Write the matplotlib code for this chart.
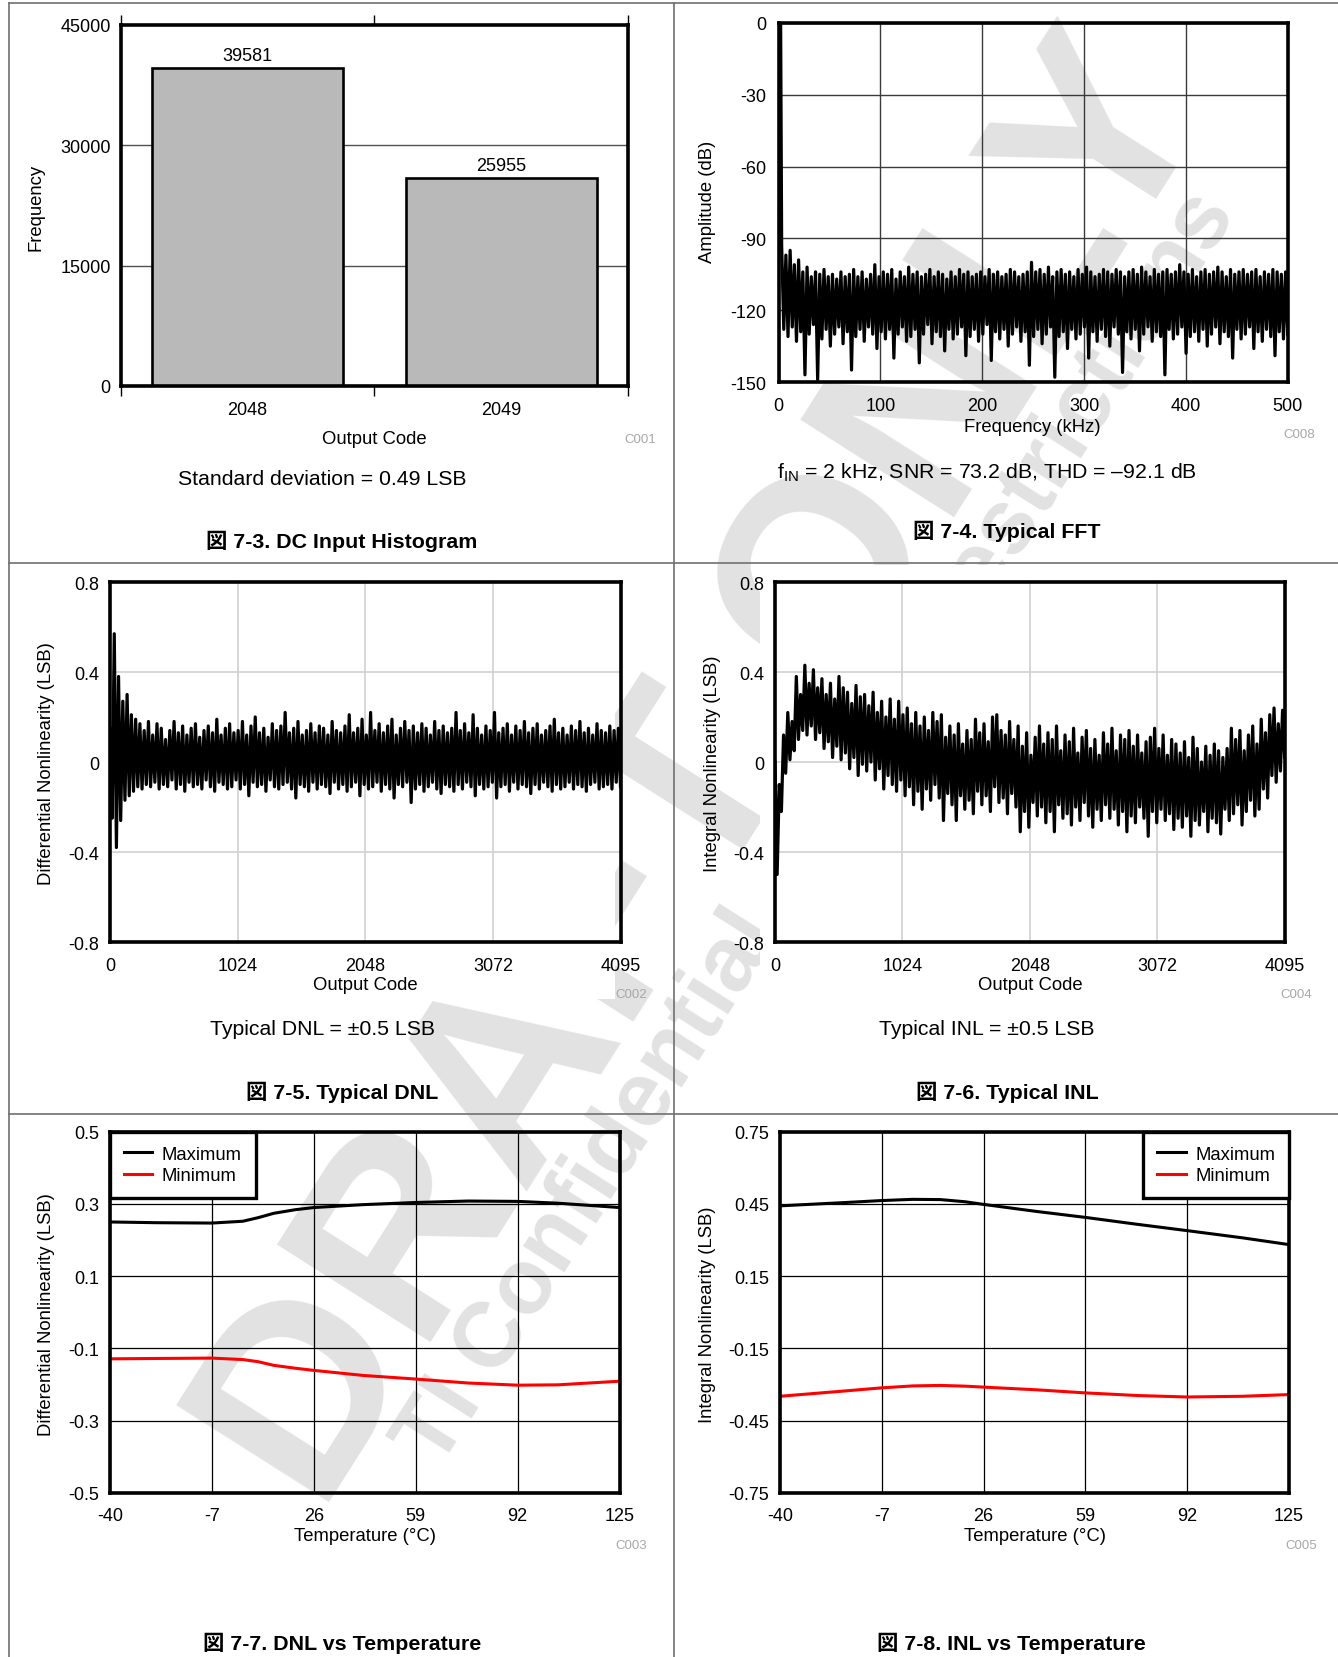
import numpy as np
import matplotlib
matplotlib.use('Agg')
import matplotlib.pyplot as plt
from matplotlib.lines import Line2D
from matplotlib.patches import Rectangle

plt.rcParams['font.family'] = ['Liberation Sans', 'Noto Sans CJK JP', 'DejaVu Sans']
plt.rcParams['axes.unicode_minus'] = False
plt.rcParams['mathtext.fontset'] = 'custom'
plt.rcParams['mathtext.rm'] = 'Liberation Sans'

# ---------------------------------------------------------------- data
hist_codes = ['2048', '2049']
hist_counts = [39581, 25955]

# FFT: fundamental at 2 kHz, then noise floor peaks / troughs (dB)
fft_fund_khz = 2
fft_fund_db = 0
fft_hi = [-93, -97, -95, -101, -99, -104, -102, -106, -104, -105, -103, -106, -105, -107, -104,
          -106, -105, -103, -106, -104, -107, -105, -101, -106, -104, -105, -103, -107, -104, -106,
          -102, -105, -104, -106, -105, -103, -106, -104, -105, -107, -104, -106, -103, -105, -104,
          -106, -105, -104, -106, -103, -105, -104, -106, -105, -103, -104, -106, -105, -104, -100,
          -104, -103, -105, -102, -106, -104, -103, -105, -104, -106, -103, -105, -102, -104, -106,
          -105, -103, -104, -105, -103, -104, -106, -104, -103, -105, -102, -104, -106, -103, -105,
          -104, -103, -105, -104, -101, -104, -105, -103, -106, -104, -103, -105, -104, -102, -104,
          -106, -103, -105, -104, -103, -105, -104, -103, -106, -104, -105, -103, -104, -105, -104]
fft_lo = [-128, -131, -127, -133, -129, -147, -130, -126, -149, -132, -128, -135, -130, -127, -134,
          -129, -145, -131, -128, -133, -127, -130, -136, -129, -132, -128, -140, -130, -127, -133,
          -131, -128, -142, -130, -126, -134, -129, -131, -137, -128, -132, -130, -127, -139, -131,
          -128, -133, -130, -126, -141, -129, -132, -128, -135, -130, -127, -133, -129, -143, -131,
          -128, -134, -130, -127, -148, -131, -129, -136, -128, -132, -130, -127, -140, -129, -133,
          -128, -131, -135, -127, -130, -146, -129, -132, -128, -137, -130, -127, -133, -129, -131,
          -147, -128, -132, -130, -127, -138, -131, -129, -133, -128, -135, -130, -127, -134, -129,
          -131, -140, -128, -132, -130, -127, -136, -129, -133, -128, -131, -139, -129, -132, -130]

# DNL (LSB): local maxima / minima along the code range
dnl_hi = [0.15, 0.57, 0.38, 0.27, 0.30, 0.21, 0.19, 0.17, 0.14, 0.18,
          0.12, 0.17, 0.15, 0.10, 0.14, 0.18, 0.13, 0.16, 0.12, 0.15,
          0.17, 0.11, 0.14, 0.16, 0.13, 0.19, 0.12, 0.15, 0.17, 0.13,
          0.14, 0.18, 0.12, 0.16, 0.20, 0.13, 0.15, 0.11, 0.17, 0.14,
          0.16, 0.22, 0.13, 0.15, 0.18, 0.12, 0.14, 0.17, 0.13, 0.16,
          0.15, 0.12, 0.18, 0.14, 0.13, 0.16, 0.21, 0.13, 0.15, 0.19,
          0.12, 0.22, 0.14, 0.17, 0.13, 0.16, 0.19, 0.12, 0.15, 0.18,
          0.14, 0.16, 0.13, 0.17, 0.15, 0.12, 0.18, 0.14, 0.16, 0.13,
          0.15, 0.22, 0.14, 0.17, 0.13, 0.21, 0.15, 0.12, 0.16, 0.14,
          0.22, 0.13, 0.15, 0.17, 0.12, 0.16, 0.14, 0.18, 0.13, 0.15,
          0.17, 0.12, 0.14, 0.16, 0.19, 0.13, 0.15, 0.12, 0.16, 0.14,
          0.18, 0.13, 0.15, 0.12, 0.17, 0.14, 0.13, 0.16, 0.14, 0.15]
dnl_lo = [-0.25, -0.38, -0.26, -0.17, -0.15, -0.13, -0.11, -0.12, -0.10, -0.11,
          -0.09, -0.12, -0.10, -0.11, -0.08, -0.12, -0.10, -0.13, -0.09, -0.11,
          -0.10, -0.12, -0.08, -0.11, -0.13, -0.09, -0.10, -0.12, -0.11, -0.08,
          -0.12, -0.10, -0.15, -0.09, -0.11, -0.10, -0.13, -0.08, -0.11, -0.12,
          -0.10, -0.09, -0.12, -0.16, -0.10, -0.11, -0.13, -0.09, -0.12, -0.10,
          -0.11, -0.14, -0.09, -0.12, -0.10, -0.13, -0.11, -0.09, -0.15, -0.10,
          -0.12, -0.11, -0.09, -0.13, -0.10, -0.12, -0.16, -0.10, -0.11, -0.09,
          -0.18, -0.12, -0.10, -0.13, -0.11, -0.09, -0.12, -0.14, -0.10, -0.11,
          -0.13, -0.10, -0.12, -0.09, -0.11, -0.15, -0.10, -0.12, -0.11, -0.09,
          -0.16, -0.11, -0.10, -0.13, -0.09, -0.12, -0.10, -0.11, -0.14, -0.10,
          -0.12, -0.09, -0.11, -0.13, -0.10, -0.12, -0.11, -0.09, -0.12, -0.10,
          -0.11, -0.13, -0.10, -0.09, -0.12, -0.11, -0.10, -0.12, -0.09, -0.11]

# INL (LSB): local maxima / minima along the code range
inl_hi = [0.00, -0.10, 0.12, 0.22, 0.18,
          0.38, 0.30, 0.43, 0.35, 0.41, 0.33,
          0.37, 0.30, 0.35, 0.28, 0.38, 0.33,
          0.31, 0.26, 0.34, 0.29, 0.30, 0.25,
          0.31, 0.22, 0.27, 0.20, 0.28, 0.19,
          0.27, 0.21, 0.24, 0.17, 0.22, 0.16,
          0.20, 0.14, 0.22, 0.18, 0.21, 0.11,
          0.16, 0.12, 0.17, 0.08, 0.14, 0.10,
          0.19, 0.13, 0.17, 0.09, 0.20, 0.21,
          0.14, 0.12, 0.18, 0.10, 0.16, 0.07,
          0.13, 0.03, 0.11, 0.16, 0.08, 0.13,
          0.10, 0.16, 0.05, 0.12, 0.09, 0.15,
          0.04, 0.11, 0.14, 0.06, 0.10, 0.03,
          0.13, 0.08, 0.15, 0.05, 0.12, 0.10,
          0.14, 0.07, 0.12, 0.04, 0.09, 0.11,
          0.15, 0.06, 0.12, 0.03, 0.10, 0.08,
          0.04, 0.09, 0.02, 0.11, 0.06, 0.00,
          0.07, 0.03, 0.08, 0.05, 0.02, 0.06,
          0.15, 0.10, 0.14, 0.05, 0.12, 0.16,
          0.08, 0.19, 0.13, 0.21, 0.24, 0.17, 0.23]
inl_lo = [-0.50, -0.22, -0.05, 0.01, 0.05,
          0.10, 0.14, 0.12, 0.16, 0.10, 0.13,
          0.06, 0.09, 0.02, 0.07, 0.01, 0.04,
          -0.03, 0.02, -0.06, -0.01, -0.04, 0.00,
          -0.08, -0.03, -0.12, -0.06, -0.10, -0.13,
          -0.08, -0.15, -0.11, -0.19, -0.13, -0.21,
          -0.12, -0.17, -0.10, -0.16, -0.26, -0.14,
          -0.19, -0.26, -0.15, -0.21, -0.17, -0.23,
          -0.13, -0.19, -0.15, -0.22, -0.11, -0.18,
          -0.16, -0.23, -0.14, -0.20, -0.31, -0.22,
          -0.29, -0.18, -0.24, -0.20, -0.27, -0.22,
          -0.31, -0.19, -0.25, -0.23, -0.28, -0.20,
          -0.26, -0.18, -0.24, -0.29, -0.21, -0.26,
          -0.19, -0.25, -0.21, -0.28, -0.22, -0.31,
          -0.24, -0.27, -0.20, -0.25, -0.33, -0.22,
          -0.27, -0.21, -0.26, -0.23, -0.30, -0.25,
          -0.29, -0.24, -0.33, -0.26, -0.28, -0.22,
          -0.31, -0.25, -0.27, -0.32, -0.21, -0.26,
          -0.23, -0.19, -0.28, -0.22, -0.17, -0.24,
          -0.21, -0.12, -0.16, -0.06, -0.09, -0.04, 0.02]

temp_c = [-40, -25, -7, 3, 8, 13, 20, 26, 42, 59, 76, 92, 105, 125]
dnl_max = [0.250, 0.248, 0.247, 0.252, 0.262, 0.274, 0.284, 0.290, 0.298, 0.304, 0.308, 0.307, 0.302, 0.290]
dnl_min = [-0.129, -0.128, -0.127, -0.131, -0.137, -0.147, -0.155, -0.161, -0.175, -0.185, -0.196, -0.202, -0.201, -0.191]

temp_inl_c = [-40, -20, -7, 3, 12, 20, 26, 43, 59, 76, 92, 110, 125]
inl_max = [0.442, 0.455, 0.464, 0.469, 0.468, 0.459, 0.448, 0.419, 0.394, 0.365, 0.339, 0.309, 0.281]
inl_min = [-0.349, -0.328, -0.314, -0.306, -0.304, -0.307, -0.311, -0.322, -0.335, -0.346, -0.352, -0.349, -0.342]

temp_ticks = [-40, -7, 26, 59, 92, 125]

# ---------------------------------------------------------------- figure
W, H = 1338, 1658
fig = plt.figure(figsize=(W / 100, H / 100), dpi=100)
fig.patch.set_facecolor('white')


def place(l, t, r, b):
    ax = fig.add_axes([l / W, 1 - b / H, (r - l) / W, (b - t) / H])
    ax.patch.set_alpha(0)
    return ax


def ftext(x, y, s, **kw):
    return fig.text(x / W, 1 - y / H, s, ha='center', va='center', **kw)


def frame(ax, xpad, ypad):
    for sp in ax.spines.values():
        sp.set_linewidth(2.6)
        sp.set_color('black')
        sp.set_zorder(5)
    ax.tick_params(length=0, labelsize=13)
    ax.tick_params(axis='x', pad=xpad)
    ax.tick_params(axis='y', pad=ypad)


def zigzag(hi, lo):
    out = []
    for a, b in zip(hi, lo):
        out += [a, b]
    return np.array(out)


gray_code = dict(fontsize=9.5, color='#a8a8a8')
cap = dict(fontsize=15.4, fontweight='bold')
note = dict(fontsize=15.3)
lab = dict(fontsize=13.3)

# ---- draft watermark (behind everything)
wm = dict(color='#e2e2e2', fontweight='bold', rotation=57.6, rotation_mode='anchor', zorder=-3)
ftext(710, 776, 'DRAFT ONLY', fontsize=189, **wm)
ftext(818, 829, 'TI Confidential – NDA Restrictions', fontsize=66, **wm)
# the DNL / INL pictures are opaque and hide the watermark
for (x0, y0, x1, y1) in [(10, 566, 615, 1000), (760, 566, W, 1000)]:
    fig.add_artist(Rectangle((x0 / W, 1 - y1 / H), (x1 - x0) / W, (y1 - y0) / H,
                             transform=fig.transFigure, facecolor='white', edgecolor='none', zorder=-2))

# ---- 7-3 histogram
ax1 = place(120.5, 26, 628, 387)
ax1.set_axisbelow(True)
ax1.bar([0.5, 1.5], hist_counts, width=0.753, color='#b9b9b9', edgecolor='black', linewidth=1.9, zorder=3)
for xc, v in zip([0.5, 1.5], hist_counts):
    ax1.annotate(str(v), (xc, v), xytext=(0, 3), textcoords='offset points', ha='center', va='bottom', fontsize=13)
ax1.set_xlim(0, 2)
ax1.set_ylim(0, 45000)
ax1.set_yticks([0, 15000, 30000, 45000])
ax1.set_xticks([0, 1, 2])
ax1.set_xticklabels([])
ax1.set_xticks([0.5, 1.5], minor=True)
ax1.set_xticklabels(hist_codes, minor=True)
for y in [15000, 30000]:
    ax1.axhline(y, color='#505050', lw=1.0, zorder=1)
frame(ax1, 10, 7)
ax1.tick_params(axis='x', which='major', top=True, bottom=True, direction='out', length=7, width=1)
ax1.tick_params(axis='x', which='minor', length=0, pad=11, labelsize=13)
ftext(36, 207, 'Frequency', rotation=90, **lab)
ftext(374, 440, 'Output Code', **lab)
ftext(640, 440, 'C001', **gray_code)
ftext(322.6, 479.6, 'Standard deviation = 0.49 LSB', **note)
ftext(342, 541, '図 7-3. DC Input Histogram', **cap)

# ---- 7-4 FFT
ax2 = place(778.6, 24, 1287.7, 383)
fft_x = np.concatenate([[fft_fund_khz], np.linspace(fft_fund_khz + 1, 500, 2 * len(fft_hi))])
fft_y = np.concatenate([[fft_fund_db], zigzag(fft_hi, fft_lo)])
ax2.plot(fft_x, fft_y, color='black', lw=2.3, zorder=3)
ax2.set_xlim(0, 500)
ax2.set_ylim(-150, 0)
ax2.set_xticks([0, 100, 200, 300, 400, 500])
ax2.set_yticks([0, -30, -60, -90, -120, -150])
ax2.grid(True, color='#3a3a3a', lw=1.0)
ax2.set_axisbelow(True)
frame(ax2, 10.5, 9)
ftext(708, 202, 'Amplitude (dB)', rotation=90, **lab)
ftext(1032, 427.5, 'Frequency (kHz)', **lab)
ftext(1299.5, 435, 'C008', **gray_code)
ftext(987, 472.5, r'f$_\mathregular{IN}$ = 2 kHz, SNR = 73.2 dB, THD = –92.1 dB', **note)
ftext(1006.5, 531, '図 7-4. Typical FFT', **cap)

# ---- 7-5 DNL and 7-6 INL
code_ticks = [0, 1024, 2048, 3072, 4095]
for rect, hi, lo, yl, cx, ccode, txt, title in [
        ((110, 583, 620.5, 943), dnl_hi, dnl_lo, 'Differential Nonlinearity (LSB)', 47, (631.5, 'C002'),
         'Typical DNL = ±0.5 LSB', '図 7-5. Typical DNL'),
        ((775, 583, 1284.7, 943), inl_hi, inl_lo, 'Integral Nonlinearity (LSB)', 712.6, (1296, 'C004'),
         'Typical INL = ±0.5 LSB', '図 7-6. Typical INL')]:
    ax = place(*rect)
    xs = np.linspace(0, 4095, 2 * len(hi))
    ax.plot(xs, zigzag(hi, lo), color='black', lw=2.3, zorder=3)
    ax.set_xlim(0, 4095)
    ax.set_ylim(-0.8, 0.8)
    ax.set_xticks(code_ticks)
    ax.set_yticks([0.8, 0.4, 0, -0.4, -0.8])
    ax.set_yticklabels(['0.8', '0.4', '0', '-0.4', '-0.8'])
    ax.grid(True, color='#d4d4d4', lw=1.3)
    ax.set_axisbelow(True)
    frame(ax, 10.5, 8)
    xc = (rect[0] + rect[2]) / 2
    ftext(cx, 763.5, yl, rotation=90, **lab)
    ftext(xc, 985.7, 'Output Code', **lab)
    ftext(ccode[0], 995, ccode[1], **gray_code)
    ftext(xc - 43, 1029.6, txt, **note)
    ftext(xc - 23, 1092, title, **cap)

# ---- 7-7 / 7-8 vs temperature
for rect, tx, ymax, ymin, ylim, yt, leg_loc, yl, cx, ccode, title in [
        ((110, 1132.7, 619.6, 1493.8), temp_c, dnl_max, dnl_min, 0.5, [0.5, 0.3, 0.1, -0.1, -0.3, -0.5],
         'upper left', 'Differential Nonlinearity (LSB)', 47, (631, 'C003'), '図 7-7. DNL vs Temperature'),
        ((780, 1132.7, 1289, 1493.8), temp_inl_c, inl_max, inl_min, 0.75, [0.75, 0.45, 0.15, -0.15, -0.45, -0.75],
         'upper right', 'Integral Nonlinearity (LSB)', 707.5, (1301, 'C005'), '図 7-8. INL vs Temperature')]:
    ax = place(*rect)
    ax.plot(tx, ymax, color='black', lw=2.2, label='Maximum', zorder=3)
    ax.plot(tx, ymin, color='#ff0000', lw=2.2, label='Minimum', zorder=3)
    ax.set_xlim(-40, 125)
    ax.set_ylim(-ylim, ylim)
    ax.set_xticks(temp_ticks)
    ax.set_yticks(yt)
    ax.set_yticklabels(['%g' % v for v in yt])
    ax.grid(True, color='black', lw=0.9)
    ax.set_axisbelow(True)
    frame(ax, 10.5, 8)
    leg = ax.legend(loc=leg_loc, borderaxespad=0, fancybox=False, framealpha=1, edgecolor='black',
                    fontsize=13.3, handlelength=1.55, handletextpad=0.5, labelspacing=0.25,
                    borderpad=0.75)
    leg.get_frame().set_linewidth(2.4)
    leg.set_zorder(6)
    xc = (rect[0] + rect[2]) / 2
    ftext(cx, 1314.5, yl, rotation=90, **lab)
    ftext(xc, 1536.4, 'Temperature (°C)', **lab)
    ftext(ccode[0], 1546, ccode[1], **gray_code)
    ftext(xc - 23, 1643, title, **cap)

# ---- panel borders
bc = dict(color='#707070', lw=1.2)
for (x0, y0, x1, y1) in [(8.5, 3.6, W, 3.6), (8.5, 3.6, 8.5, H), (674, 3.6, 674, H),
                         (8.5, 564, W, 564), (8.5, 1114.5, W, 1114.5)]:
    fig.add_artist(Line2D([x0 / W, x1 / W], [1 - y0 / H, 1 - y1 / H], **bc))

fig.savefig('out.png', dpi=100)
